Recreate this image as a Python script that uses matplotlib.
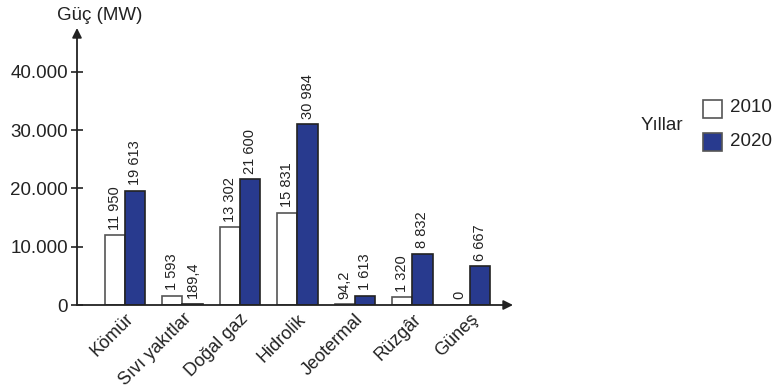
import numpy as np
import matplotlib.pyplot as plt

plt.rcParams['font.family'] = ['Liberation Sans', 'DejaVu Sans']

# data
categories = ["Kömür", "Sıvı yakıtlar", "Doğal gaz", "Hidrolik",
              "Jeotermal", "Rüzgâr", "Güneş"]
values_2010 = [11950, 1593, 13302, 15831, 94.2, 1320, 0]
values_2020 = [19613, 189.4, 21600, 30984, 1613, 8832, 6667]
labels_2010 = ["11 950", "1 593", "13 302", "15 831", "94,2", "1 320", "0"]
labels_2020 = ["19 613", "189,4", "21 600", "30 984", "1 613", "8 832", "6 667"]
yticks = [0, 10000, 20000, 30000, 40000]
ytick_labels = ["0", "10.000", "20.000", "30.000", "40.000"]

blue = '#283a8e'

fig = plt.figure(figsize=(7.84, 3.91), dpi=100)
ax = fig.add_axes([77/784, (391-305)/391, (513-77)/784, (305-28)/391])

x = np.arange(len(categories))
w = 0.35
ax.bar(x - w/2, values_2010, w, color='white', edgecolor='#555555', linewidth=1.2)
ax.bar(x + w/2, values_2020, w, color=blue, edgecolor='#222222', linewidth=1.2)

for xi, v, t in zip(x - w/2, values_2010, labels_2010):
    ax.annotate(t, (xi, v), xytext=(0, 4), textcoords='offset points',
                rotation=90, ha='center', va='bottom', fontsize=10.5, color='#222222')
for xi, v, t in zip(x + w/2, values_2020, labels_2020):
    ax.annotate(t, (xi, v), xytext=(0, 4), textcoords='offset points',
                rotation=90, ha='center', va='bottom', fontsize=10.5, color='#222222')

ax.set_xlim(-0.835, 6.75)
ax.set_ylim(0, (305-28)/58.3*10000)

for s in ax.spines.values():
    s.set_visible(False)

# axis arrows
ax.annotate('', xy=(0, 1), xytext=(0, 0), xycoords='axes fraction',
            arrowprops=dict(arrowstyle='-|>', color='#222222', lw=1.3,
                            mutation_scale=14, shrinkA=0, shrinkB=0))
ax.annotate('', xy=(1, 0), xytext=(0, 0), xycoords='axes fraction',
            arrowprops=dict(arrowstyle='-|>', color='#222222', lw=1.3,
                            mutation_scale=14, shrinkA=0, shrinkB=0))

ax.set_yticks(yticks)
ax.set_yticklabels(ytick_labels, fontsize=13.5, color='#222222')
ax.tick_params(axis='y', direction='inout', length=9, width=1.2, color='#222222', pad=2)

ax.set_xticks(x)
ax.set_xticklabels(categories, rotation=45, ha='right', rotation_mode='anchor',
                   fontsize=13, color='#222222')
ax.tick_params(axis='x', length=0, pad=4)

fig.text(100/784, 1 - 15/391, "Güç (MW)", ha='center', va='center',
         fontsize=13.5, color='#222222')

# legend
fig.text(662/784, 1 - 125/391, "Yıllar", ha='center', va='center',
         fontsize=13.5, color='#222222')
fig.patches.append(plt.Rectangle((703/784, 1 - 118/391), 19/784, 18/391,
                                 transform=fig.transFigure, facecolor='white',
                                 edgecolor='#555555', lw=1.2))
fig.patches.append(plt.Rectangle((703/784, 1 - 151/391), 19/784, 18/391,
                                 transform=fig.transFigure, facecolor=blue,
                                 edgecolor='#555555', lw=1.2))
fig.text(730/784, 1 - 108/391, "2010", ha='left', va='center', fontsize=13.5, color='#222222')
fig.text(730/784, 1 - 142/391, "2020", ha='left', va='center', fontsize=13.5, color='#222222')

fig.savefig("out.png", dpi=100)
